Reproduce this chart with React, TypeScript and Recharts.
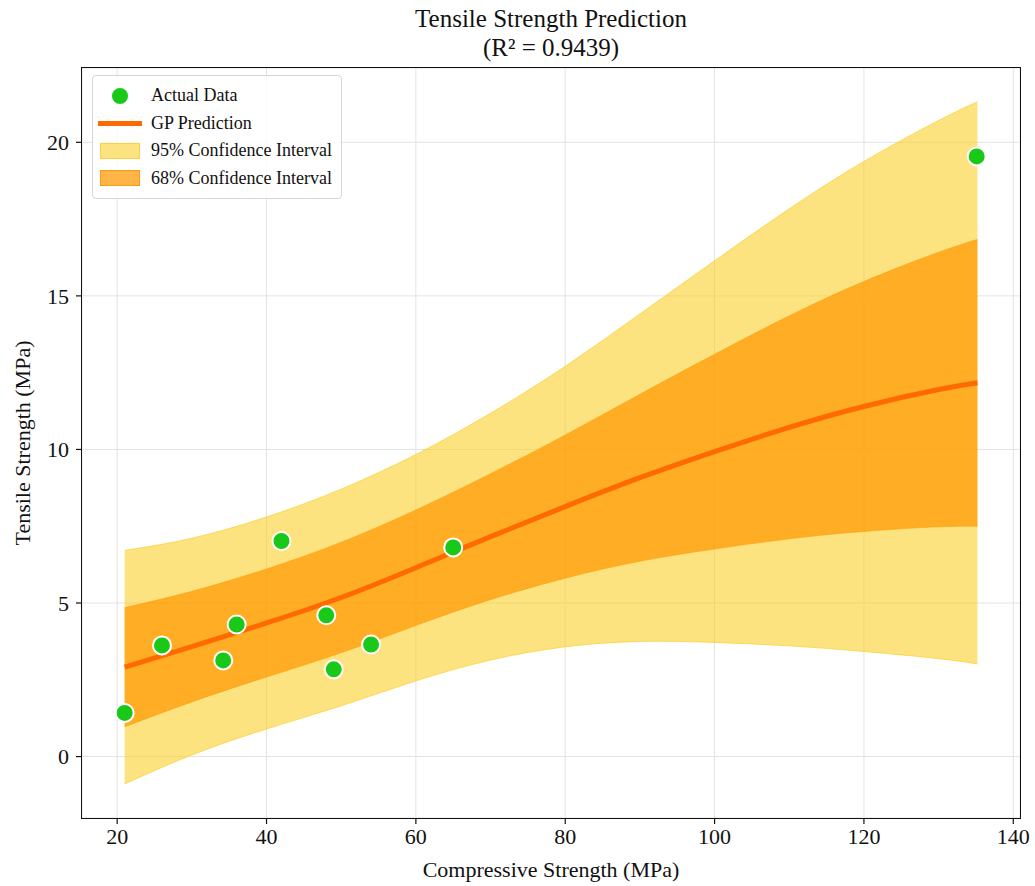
import {
  Area,
  CartesianGrid,
  ComposedChart,
  Line,
  Scatter,
  XAxis,
  YAxis,
} from "recharts";

const FONT = "'Liberation Serif', 'Times New Roman', serif";

// measured samples
const actualX = [21, 26, 34.2, 36, 42, 48, 49, 54, 65, 135.1];
const actualY = [1.42, 3.62, 3.13, 4.3, 7.02, 4.6, 2.84, 3.65, 6.81, 19.54];

// GP posterior mean and standard deviation along the input range
const gridX = [21, 30, 40, 50, 60, 70, 80, 90, 100, 110, 120, 130, 135.2];
const gpMean = [2.91, 3.58, 4.35, 5.18, 6.15, 7.16, 8.14, 9.08, 9.93, 10.72, 11.4, 11.95, 12.17];
const gpStd = [1.94, 1.8, 1.76, 1.8, 1.88, 2.05, 2.33, 2.72, 3.17, 3.63, 4.07, 4.47, 4.67];

const xTicks = [20, 40, 60, 80, 100, 120, 140];
const yTicks = [0, 5, 10, 15, 20];

const X_DOMAIN: [number, number] = [15.29, 140.9];
const Y_DOMAIN: [number, number] = [-2.0, 22.42];

// 68% -> mean ± 1σ, 95% -> mean ± 1.96σ
const bandData = gridX.map((x, i) => ({
  x,
  mean: gpMean[i],
  band68: [gpMean[i] - gpStd[i], gpMean[i] + gpStd[i]],
  band95: [gpMean[i] - 1.96 * gpStd[i], gpMean[i] + 1.96 * gpStd[i]],
}));

const points = actualX.map((x, i) => ({ x, y: actualY[i] }));

const GOLD = "#FAD02C";
const ORANGE = "#FF9900";
const LINE = "#FF6A00";
const GREEN = "#19C819";

// plot box inside the 1035x886 canvas
const PLOT = { left: 82, top: 68, right: 1020, bottom: 818 };

const legendItems = [
  { label: "Actual Data", kind: "dot" },
  { label: "GP Prediction", kind: "line" },
  { label: "95% Confidence Interval", kind: "band95" },
  { label: "68% Confidence Interval", kind: "band68" },
];

const LegendBox = () => (
  <div
    style={{
      position: "absolute",
      left: 92,
      top: 75,
      background: "rgba(255,255,255,0.85)",
      border: "1px solid #d6d6d6",
      borderRadius: 4,
      padding: "6px 9px 6px 4px",
      fontSize: 18,
      color: "#111",
    }}
  >
    {legendItems.map((it) => (
      <div
        key={it.label}
        style={{ display: "flex", alignItems: "center", height: 27.5 }}
      >
        <div
          style={{
            width: 46,
            display: "flex",
            justifyContent: "center",
            marginRight: 8,
          }}
        >
          {it.kind === "dot" && (
            <div
              style={{ width: 16, height: 16, borderRadius: 8, background: GREEN }}
            />
          )}
          {it.kind === "line" && (
            <div style={{ width: 44, height: 5, background: LINE }} />
          )}
          {it.kind === "band95" && (
            <div
              style={{
                width: 38,
                height: 14,
                background: "rgba(250,208,44,0.6)",
                border: "1px solid rgba(250,200,40,0.7)",
              }}
            />
          )}
          {it.kind === "band68" && (
            <div
              style={{
                width: 38,
                height: 14,
                background: "rgba(255,153,0,0.72)",
                border: "1px solid rgba(255,150,0,0.8)",
              }}
            />
          )}
        </div>
        <span>{it.label}</span>
      </div>
    ))}
  </div>
);

const Dot = (props: any) => {
  const { cx, cy } = props;
  if (cx == null || cy == null) return null;
  return <circle cx={cx} cy={cy} r={9} fill={GREEN} stroke="#fff" strokeWidth={2} />;
};

const tickStyle = { fill: "#111", fontSize: 22, fontFamily: FONT };

export default function App() {
  return (
    <div
      style={{
        position: "absolute",
        left: 0,
        top: 0,
        width: 1035,
        height: 886,
        background: "#fff",
        fontFamily: FONT,
      }}
    >
      <div
        style={{
          position: "absolute",
          left: PLOT.left,
          width: PLOT.right - PLOT.left,
          top: 4,
          textAlign: "center",
          fontSize: 25,
          lineHeight: "29px",
          color: "#111",
        }}
      >
        Tensile Strength Prediction
        <br />
        (R² = 0.9439)
      </div>
      <div
        style={{
          position: "absolute",
          left: PLOT.left,
          width: PLOT.right - PLOT.left,
          top: 857,
          textAlign: "center",
          fontSize: 22,
          lineHeight: "26px",
          color: "#111",
        }}
      >
        Compressive Strength (MPa)
      </div>
      <div
        style={{
          position: "absolute",
          left: 23,
          top: 443,
          transform: "translate(-50%, -50%) rotate(-90deg)",
          whiteSpace: "nowrap",
          fontSize: 22,
          color: "#111",
        }}
      >
        Tensile Strength (MPa)
      </div>
      <ComposedChart
        width={1035}
        height={886}
        data={bandData}
        margin={{ top: PLOT.top, right: 1035 - PLOT.right, bottom: 18, left: 0 }}
        style={{ position: "absolute", left: 0, top: 0 }}
      >
        <CartesianGrid stroke="#e3e3e3" strokeWidth={1} />
        <XAxis
          type="number"
          dataKey="x"
          domain={X_DOMAIN}
          ticks={xTicks}
          allowDataOverflow
          height={50}
          tick={tickStyle}
          tickLine={{ stroke: "#111", strokeWidth: 1.2 }}
          axisLine={false}
          tickSize={6}
          tickMargin={4}
        />
        <YAxis
          type="number"
          domain={Y_DOMAIN}
          ticks={yTicks}
          allowDataOverflow
          width={PLOT.left}
          tick={tickStyle}
          tickLine={{ stroke: "#111", strokeWidth: 1.2 }}
          axisLine={false}
          tickSize={6}
          tickMargin={7}
        />
        <Area
          dataKey="band95"
          type="natural"
          fill={GOLD}
          fillOpacity={0.6}
          stroke={GOLD}
          strokeOpacity={0.7}
          strokeWidth={1}
          isAnimationActive={false}
        />
        <Area
          dataKey="band68"
          type="natural"
          fill={ORANGE}
          fillOpacity={0.72}
          stroke={ORANGE}
          strokeOpacity={0.5}
          strokeWidth={1}
          isAnimationActive={false}
        />
        <Line
          dataKey="mean"
          type="natural"
          stroke={LINE}
          strokeWidth={5}
          dot={false}
          activeDot={false}
          isAnimationActive={false}
        />
        <Scatter
          data={points}
          dataKey="y"
          shape={<Dot />}
          isAnimationActive={false}
        />
      </ComposedChart>
      {/* axes frame */}
      <div
        style={{
          position: "absolute",
          left: PLOT.left - 1,
          top: PLOT.top - 1,
          width: PLOT.right - PLOT.left + 2,
          height: PLOT.bottom - PLOT.top + 2,
          border: "1.2px solid #111",
          boxSizing: "border-box",
          pointerEvents: "none",
        }}
      />
      <LegendBox />
    </div>
  );
}
